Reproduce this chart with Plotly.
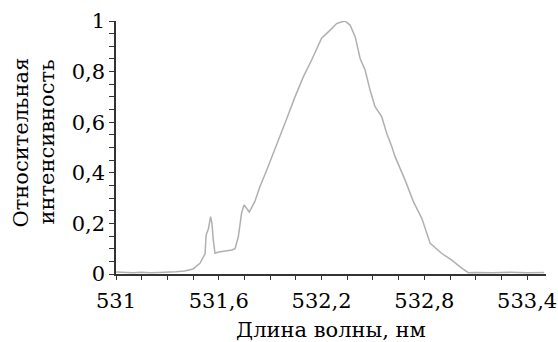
import plotly.graph_objects as go

wavelength = [531.0, 531.05, 531.1, 531.15, 531.2, 531.25, 531.3, 531.35, 531.4, 531.45,
              531.49, 531.52, 531.526, 531.54, 531.552, 531.56, 531.568, 531.578, 531.6, 531.64,
              531.676, 531.695, 531.714, 531.733, 531.747, 531.762, 531.778, 531.81, 531.84, 531.88,
              531.918, 531.958, 531.997, 532.045, 532.094, 532.142, 532.17, 532.2, 532.25, 532.288,
              532.31, 532.337, 532.366, 532.396, 532.425, 532.454, 532.483, 532.512, 532.551, 532.58,
              532.61, 532.629, 532.687, 532.736, 532.785, 532.834, 532.9, 532.96, 533.018, 533.057,
              533.1, 533.2, 533.3, 533.4, 533.5]
intensity = [0.008, 0.006, 0.005, 0.007, 0.005, 0.006, 0.007, 0.009, 0.012, 0.02,
             0.042, 0.08, 0.154, 0.18, 0.227, 0.2, 0.134, 0.082, 0.087, 0.09,
             0.095, 0.1, 0.147, 0.24, 0.273, 0.26, 0.245, 0.286, 0.345, 0.411,
             0.477, 0.54, 0.615, 0.70, 0.78, 0.846, 0.885, 0.932, 0.964, 0.99,
             0.995, 1.0, 0.984, 0.938, 0.852, 0.806, 0.727, 0.661, 0.622, 0.556,
             0.503, 0.464, 0.372, 0.286, 0.22, 0.121, 0.082, 0.055, 0.023, 0.005,
             0.006, 0.005, 0.007, 0.005, 0.006]

x_tickvals = [531.0, 531.6, 532.2, 532.8, 533.4]
x_ticktext = ["531", "531,6", "532,2", "532,8", "533,4"]
y_tickvals = [0, 0.2, 0.4, 0.6, 0.8, 1.0]
y_ticktext = ["0", "0,2", "0,4", "0,6", "0,8", "1"]

x_title = "Длина волны, нм"
y_title_lines = ["Относительная", "интенсивность"]

FONT = "DejaVu Serif"
FS = 21

fig = go.Figure()
fig.add_trace(go.Scatter(x=wavelength, y=intensity, mode="lines",
                         line=dict(color="#b0b0b0", width=1.5), showlegend=False))

fig.update_layout(
    width=558, height=342,
    margin=dict(l=116, r=12, t=21, b=68, autoexpand=False),
    paper_bgcolor="white", plot_bgcolor="white",
    font=dict(family=FONT, size=FS, color="black"),
)
fig.update_xaxes(
    range=[531, 533.51], showgrid=False, zeroline=False, automargin=False,
    showline=True, linecolor="#333", linewidth=1.5,
    tickmode="array", tickvals=x_tickvals, ticktext=x_ticktext,
    ticks="outside", ticklen=4, tickwidth=1.2, tickcolor="#333",
    ticklabelstandoff=3, ticklabeloverflow="allow",
    minor=dict(tickmode="linear", tick0=531, dtick=0.15, ticks="outside",
               ticklen=4, tickwidth=1.2, tickcolor="#333", showgrid=False),
    tickfont=dict(family=FONT, size=FS, color="black"),
    title=dict(text=x_title, font=dict(family=FONT, size=FS, color="black"), standoff=12),
)
fig.update_yaxes(
    range=[0, 1.0], showgrid=False, zeroline=False, automargin=False,
    showline=True, linecolor="#333", linewidth=1.5,
    tickmode="array", tickvals=y_tickvals, ticktext=y_ticktext,
    ticks="outside", ticklen=5, tickwidth=1.2, tickcolor="#333",
    ticklabeloverflow="allow",
    minor=dict(tickmode="linear", tick0=0, dtick=0.05, ticks="outside",
               ticklen=5, tickwidth=1.2, tickcolor="#333", showgrid=False),
    tickfont=dict(family=FONT, size=FS, color="black"),
)

for i, (txt, xs) in enumerate(zip(y_title_lines, [20, 46])):
    fig.add_annotation(text=txt, textangle=-90, xref="paper", yref="paper",
                       x=0, y=0.5, xanchor="center", yanchor="middle",
                       xshift=xs - 116, yshift=5, showarrow=False,
                       font=dict(family=FONT, size=FS, color="black"))

fig.write_html("out.html")
